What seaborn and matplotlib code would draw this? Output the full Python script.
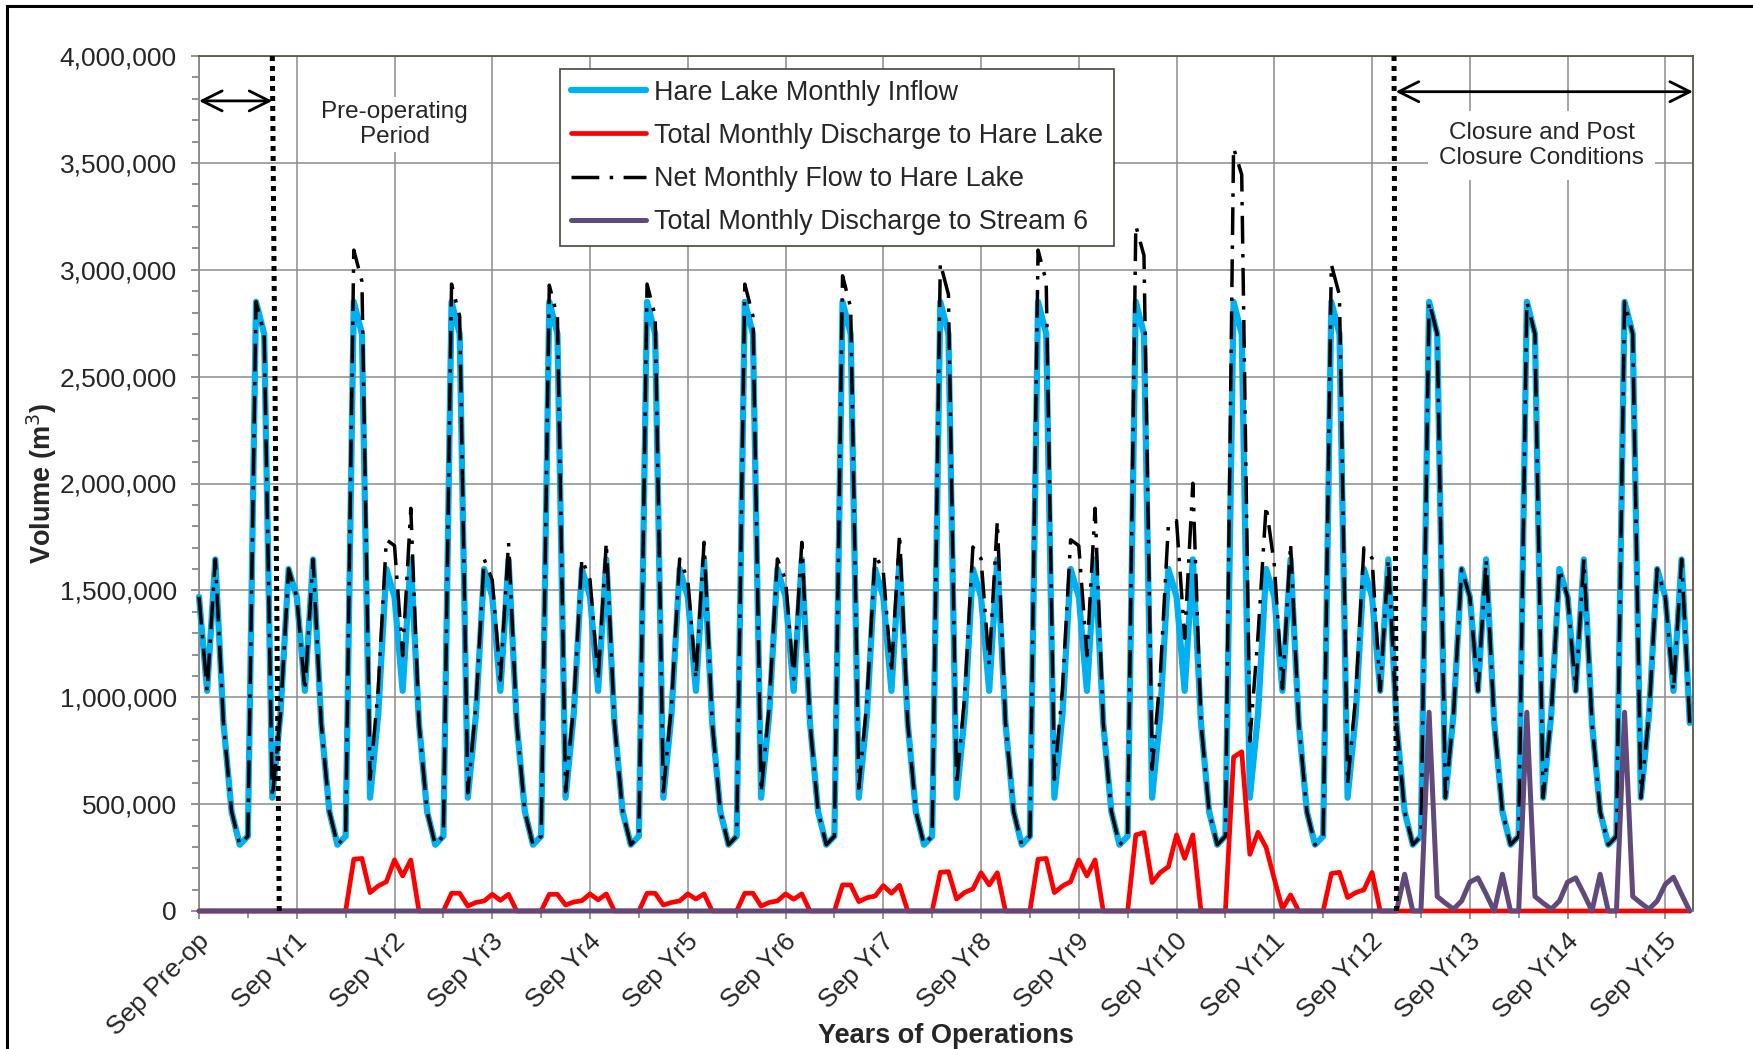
import matplotlib
matplotlib.use('Agg')
import matplotlib.pyplot as plt
import matplotlib.transforms as mtransforms
from matplotlib.patches import Rectangle
from matplotlib.ticker import MultipleLocator, FixedLocator, FuncFormatter
import pandas as pd
import seaborn as sns

# Hare Lake monthly inflow, one year Sep..Aug (m3) - same hydrograph every year
inflow_year = [1470000, 1030000, 1645000, 880000, 465000, 310000,
               350000, 2850000, 2700000, 530000, 920000, 1600000]

# Total monthly discharge to Hare Lake, by year block Sep..Aug (m3)
discharge_hare = [
    0, 0, 0, 0, 0, 0, 0, 0, 0, 0, 0, 0,
    0, 0, 0, 0, 0, 0, 0, 242000, 246000, 86000, 117000, 137000,
    239000, 164000, 239000, 0, 0, 0, 0, 83000, 83000, 23000, 40000, 47000,
    78000, 50000, 78000, 0, 0, 0, 0, 78000, 78000, 28000, 42000, 48000,
    80000, 52000, 80000, 0, 0, 0, 0, 83000, 83000, 28000, 40000, 47000,
    80000, 56000, 80000, 0, 0, 0, 0, 83000, 83000, 23000, 40000, 47000,
    80000, 55000, 80000, 0, 0, 0, 0, 122000, 122000, 44000, 62000, 70000,
    119000, 83000, 120000, 0, 0, 0, 0, 181000, 184000, 56000, 87000, 103000,
    179000, 122000, 179000, 0, 0, 0, 0, 242000, 246000, 86000, 117000, 137000,
    239000, 164000, 239000, 0, 0, 0, 0, 356000, 367000, 133000, 180000, 207000,
    356000, 246000, 356000, 0, 0, 0, 0, 720000, 745000, 265000, 368000, 297000,
    150000, 10000, 75000, 0, 0, 0, 0, 175000, 181000, 63000, 86000, 99000,
    181000, 0, 0, 0, 0, 0, 0, 0, 0, 0, 0, 0,
    0, 0, 0, 0, 0, 0, 0, 0, 0, 0, 0, 0,
    0, 0, 0, 0, 0, 0, 0, 0, 0, 0, 0, 0,
    0, 0, 0, 0,
]

# Total monthly discharge to Stream 6 (closure period), by year block Sep..Aug (m3)
discharge_stream6 = [0] * 148 + [
    172000, 0, 0, 930000, 68000, 37000, 9000, 47000,
    135000, 155000, 80000, 0, 172000, 0, 0, 930000, 68000, 37000, 9000, 47000,
    135000, 155000, 80000, 0, 172000, 0, 0, 930000, 68000, 37000, 9000, 47000,
    125000, 158000, 78000, 0,
]

year_labels = ['Sep Pre-op'] + ['Sep Yr%d' % k for k in range(1, 16)]

n_months = len(discharge_hare)
inflow = (inflow_year * 16)[:n_months]
net_flow = [a + b for a, b in zip(inflow, discharge_hare)]

df = pd.DataFrame({
    'month': range(n_months),
    'inflow': inflow,
    'hare': discharge_hare,
    'net': net_flow,
    'stream6': discharge_stream6,
})

sns.set_style('white')
plt.rcParams['font.family'] = ['Liberation Sans', 'DejaVu Sans']

W, H = 1753, 1049
fig = plt.figure(figsize=(W / 100, H / 100), dpi=100)
ax = fig.add_axes([199 / W, 1 - 911 / H, (1693 - 199) / W, (911 - 56) / H])

sns.lineplot(data=df, x='month', y='inflow', ax=ax, color='#00B0F0', linewidth=4.5,
             label='Hare Lake Monthly Inflow', solid_joinstyle='round', clip_on=False,
             zorder=3)
sns.lineplot(data=df, x='month', y='hare', ax=ax, color='#FF0000', linewidth=3.4,
             label='Total Monthly Discharge to Hare Lake', solid_joinstyle='round',
             clip_on=False, zorder=3)
sns.lineplot(data=df, x='month', y='net', ax=ax, color='black', linewidth=2.5,
             linestyle=(0, (8, 3, 1, 3)), label='Net Monthly Flow to Hare Lake',
             clip_on=False, zorder=3)
sns.lineplot(data=df, x='month', y='stream6', ax=ax, color='#604A7B', linewidth=3.6,
             label='Total Monthly Discharge to Stream 6', solid_joinstyle='round',
             clip_on=False, zorder=3)

ax.set_xlim(0, 183.4)
ax.set_ylim(0, 4000000)

# axes, ticks, grid
ax.set_axisbelow(True)
ax.yaxis.set_major_locator(MultipleLocator(500000))
ax.yaxis.set_minor_locator(MultipleLocator(100000))
ax.yaxis.set_major_formatter(FuncFormatter(lambda v, p: '{:,.0f}'.format(v)))
ax.set_xticks(range(0, 181, 12))
ax.set_xticklabels(year_labels)
ax.xaxis.set_minor_locator(FixedLocator(range(6, 184, 12)))
ax.grid(True, which='major', color='#8c8c8c', linewidth=1.1)
ax.tick_params(axis='both', which='major', direction='out', color='#898989', width=1.3,
               length=6, labelsize=19, left=True, bottom=True)
ax.tick_params(axis='both', which='minor', direction='out', color='#898989', width=1.3,
               length=5, left=True, bottom=True)
ax.tick_params(axis='y', which='major', pad=10)
ax.tick_params(axis='x', which='major', pad=13)

offset = mtransforms.ScaledTranslation(7 / 100, 0, fig.dpi_scale_trans)
for lab in ax.get_xticklabels():
    lab.set_rotation(45)
    lab.set_ha('right')
    lab.set_va('center')
    lab.set_rotation_mode('anchor')
    lab.set_transform(lab.get_transform() + offset)

for side in ['left', 'bottom']:
    ax.spines[side].set_color('#898989')
    ax.spines[side].set_linewidth(1.3)
for side in ['top', 'right']:
    ax.spines[side].set_color('#5a5646')
    ax.spines[side].set_linewidth(1.3)

ax.set_xlabel('Years of Operations', fontsize=19.5, fontweight='bold')
ax.set_ylabel('Volume (m$^3$)', fontsize=19.5, fontweight='bold')
ax.xaxis.set_label_coords(0.5, -0.131)
ax.yaxis.set_label_coords(-0.094, 0.5)

leg = ax.legend(loc='upper left', bbox_to_anchor=(0.2416, 0.985), borderaxespad=0,
                frameon=True, fancybox=False, edgecolor='#4a4636', fontsize=19.4,
                handlelength=2.8, handletextpad=0.3, labelspacing=0.64, borderpad=0.4)
leg.get_frame().set_linewidth(1.2)
leg.get_frame().set_alpha(1)
leg.set_zorder(6)

# period markers
ax.plot([9.0, 9.85], [4000000, 0], color='black', linewidth=3.6,
        linestyle=(0, (1, 1)), dash_capstyle='butt', zorder=5)
ax.plot([146.7, 147.0], [4000000, 0], color='black', linewidth=3.6,
        linestyle=(0, (1, 1)), dash_capstyle='butt', zorder=5)

arrow = dict(arrowstyle='<->,head_length=0.72,head_width=0.36', lw=2.0, color='black',
             shrinkA=0, shrinkB=0, mutation_scale=20)
ax.annotate('', xy=(0, 3790000), xytext=(9.0, 3790000), arrowprops=arrow, zorder=6)
ax.annotate('', xy=(146.9, 3833000), xytext=(183.4, 3833000), arrowprops=arrow, zorder=6)

ax.text(24, 3680000, 'Pre-operating\nPeriod', ha='center', va='center', fontsize=17.5,
        linespacing=1.15, bbox=dict(facecolor='white', edgecolor='none', pad=3), zorder=4)
ax.text(164.8, 3581000, 'Closure and Post\nClosure Conditions', ha='center', va='center',
        fontsize=17.5, linespacing=1.15,
        bbox=dict(facecolor='white', edgecolor='none', pad=8), zorder=4)

# outer chart frame (left and top edges visible)
fig.patches.append(Rectangle((6.5 / W, -0.2), 1.5, 1.2 - 5.5 / H, transform=fig.transFigure,
                             fill=False, edgecolor='black', linewidth=2.2, clip_on=False))

fig.savefig('out.png', dpi=100)
